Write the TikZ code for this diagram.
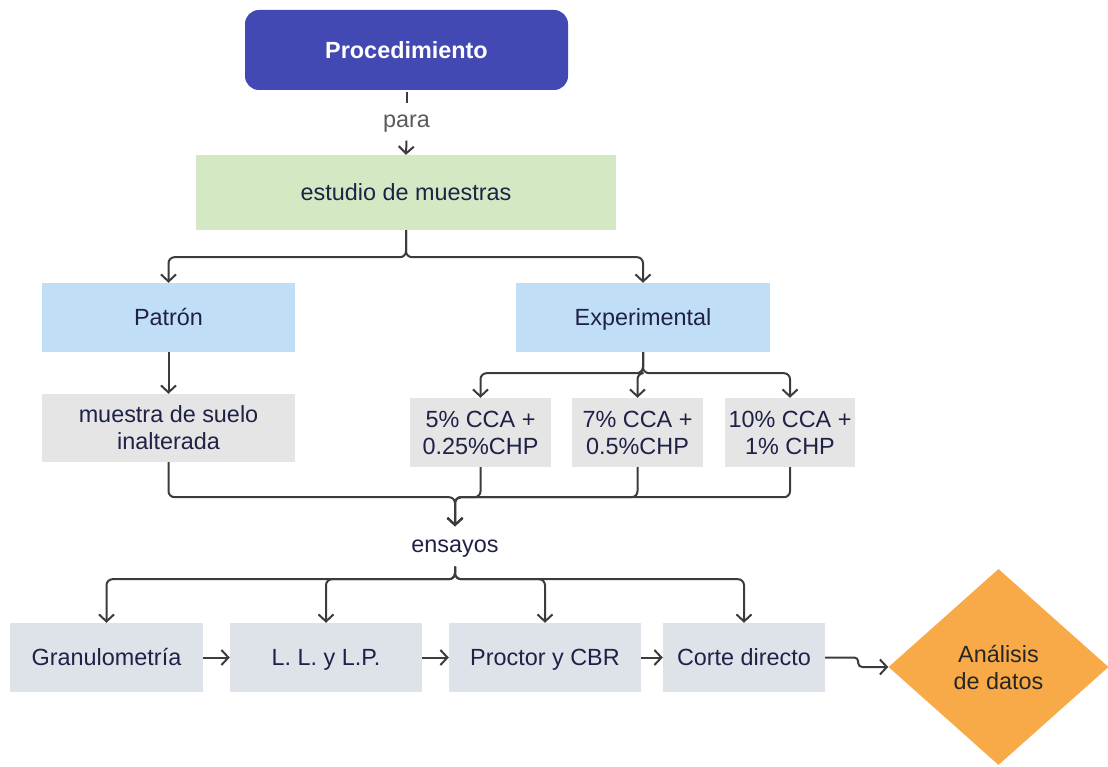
\documentclass[tikz,border=0pt]{standalone}
\usepackage{fontspec}
\setmainfont{Liberation Sans}
\usetikzlibrary{arrows.meta,shapes.geometric}
\definecolor{procblue}{HTML}{4349B2}
\definecolor{studygreen}{HTML}{D4E9C3}
\definecolor{typeblue}{HTML}{C0DFF7}
\definecolor{samplegray}{HTML}{E5E5E5}
\definecolor{testgray}{HTML}{DEE3EA}
\definecolor{resorange}{HTML}{F9AA48}
\definecolor{txt}{HTML}{1F2146}
\definecolor{lin}{HTML}{3C3C3C}
\definecolor{paragray}{HTML}{5A5A5A}
\begin{document}
\begin{tikzpicture}[x=1pt,y=-1pt,
  box/.style={rectangle, inner sep=0pt, align=center, text=txt,
    font=\fontsize{23.4}{27}\selectfont},
  oneline/.style={text height=16.8pt, text depth=0pt},
  lbl/.style={inner sep=0pt, align=center, font=\fontsize{23.4}{27}\selectfont,
    text height=16.8pt, text depth=4.9pt},
  conn/.style={draw=lin, line width=2pt, rounded corners=6pt,
    -{Straight Barb[length=7pt,width=15pt,line width=2pt]}},
  plainline/.style={draw=lin, line width=2pt}]
\useasboundingbox (0,0) rectangle (1108,767);

% nodes
\node[box, oneline, fill=procblue, rounded corners=14pt, text=white,
  font=\fontsize{23.4}{27}\selectfont\bfseries,
  minimum width=323pt, minimum height=80pt] (proc) at (406.5,50) {Procedimiento};
\node[lbl, text=paragray, minimum height=37pt] (para) at (406.5,122) {para};
\node[box, oneline, fill=studygreen, minimum width=420pt, minimum height=75pt] (est) at (406,192.5) {estudio de muestras};
\node[box, oneline, fill=typeblue, minimum width=253pt, minimum height=69pt] (pat) at (168.5,317.5) {Patrón};
\node[box, oneline, fill=typeblue, minimum width=254pt, minimum height=69pt] (exp) at (643,317.5) {Experimental};
\node[box, fill=samplegray, minimum width=253pt, minimum height=68pt] (mue) at (168.5,428) {muestra de suelo\\inalterada};
\node[box, fill=samplegray, minimum width=141pt, minimum height=69pt] (c5) at (480.5,432.5) {5\% CCA +\\0.25\%CHP};
\node[box, fill=samplegray, minimum width=131pt, minimum height=69pt] (c7) at (637.5,432.5) {7\% CCA +\\0.5\%CHP};
\node[box, fill=samplegray, minimum width=130pt, minimum height=69pt] (c10) at (790,432.5) {10\% CCA +\\1\% CHP};
\node[lbl, text=txt, minimum height=40pt] (ens) at (455,546.5) {ensayos};
\node[box, oneline, fill=testgray, minimum width=193pt, minimum height=69pt] (gran) at (106.5,657.5) {Granulometría};
\node[box, oneline, fill=testgray, minimum width=192pt, minimum height=69pt] (ll) at (326,657.5) {L. L. y L.P.};
\node[box, oneline, fill=testgray, minimum width=192pt, minimum height=69pt] (pro) at (545,657.5) {Proctor y CBR};
\node[box, oneline, fill=testgray, minimum width=162pt, minimum height=69pt] (cor) at (744,657.5) {Corte directo};
\node[box, shape=diamond, fill=resorange, text=black!85, minimum width=220pt, minimum height=196pt] (dia) at (998.5,667) {Análisis\\de datos};

% connectors
\draw[plainline] (proc.south) ++(0,2) -- (para.north);
\draw[conn] (para.south) -- (est.north);
\draw[conn] (est.south) -- ++(0,27) -| (pat.north);
\draw[conn] (est.south) -- ++(0,27) -| (exp.north);
\draw[conn] (pat.south) -- (mue.north);
\draw[conn] (exp.south) -- ++(0,21) -| (c5.north);
\draw[conn] (exp.south) -- ++(0,21) -| (c7.north);
\draw[conn] (exp.south) -- ++(0,21) -| (c10.north);
\draw[conn] (mue.south) -- ++(0,35) -| (ens.north);
\draw[conn] (c5.south) -- ++(0,30) -| (ens.north);
\draw[conn] (c7.south) -- ++(0,30) -| (ens.north);
\draw[conn] (c10.south) -- ++(0,30) -| (ens.north);
\draw[conn] (ens.south) -- ++(0,12.5) -| (gran.north);
\draw[conn] (ens.south) -- ++(0,12.5) -| (ll.north);
\draw[conn] (ens.south) -- ++(0,12.5) -| (pro.north);
\draw[conn] (ens.south) -- ++(0,12.5) -| (cor.north);
\draw[conn] (gran.east) -- (ll.west);
\draw[conn] (ll.east) -- (pro.west);
\draw[conn] (pro.east) -- (cor.west);
\draw[conn, rounded corners=4pt] (cor.east) -- ++(33,0) -- ++(0,9.5) -- (dia.west);
\end{tikzpicture}
\end{document}
